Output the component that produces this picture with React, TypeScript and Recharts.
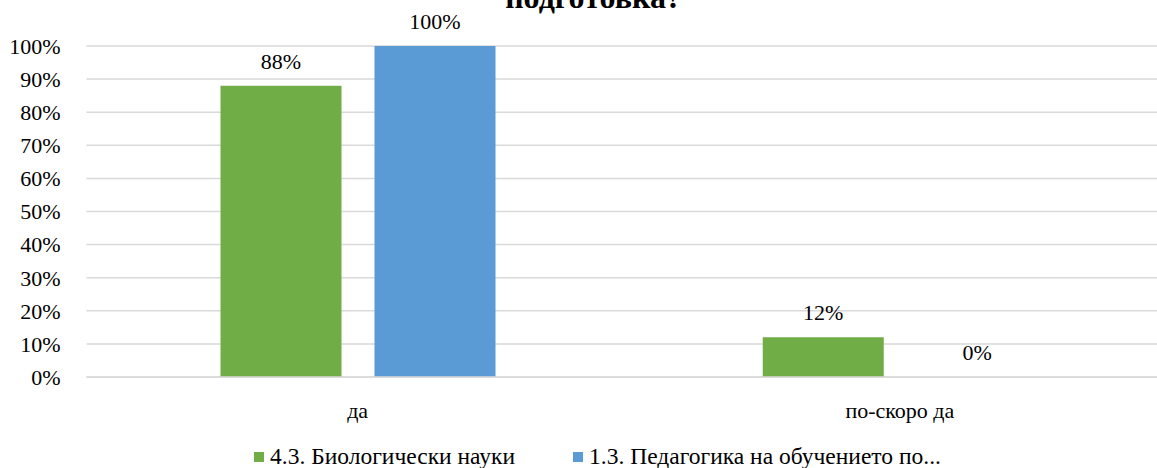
import { BarChart, Bar, XAxis, YAxis, CartesianGrid, Legend, LabelList, Rectangle } from 'recharts'

const categories = ['да', 'по-скоро да']
const biology = [88, 12]
const pedagogy = [100, 0]
const yTicks = [0, 10, 20, 30, 40, 50, 60, 70, 80, 90, 100]
const seriesNames = ['4.3. Биологически науки', '1.3. Педагогика на обучението по...']
const titleLast = 'подготовка?'

const data = categories.map((c, i) => ({ cat: c, bio: biology[i], ped: pedagogy[i] }))

const FONT = '"Liberation Serif", "Times New Roman", serif'
const GREEN = '#70AD47'
const BLUE = '#5B9BD5'
const GRID = '#D9D9D9'

// легенда, подредена като в Excel
function LegendBox() {
  const items = [
    { name: seriesNames[0], color: GREEN },
    { name: seriesNames[1], color: BLUE },
  ]
  return (
    <div style={{ display: 'flex', justifyContent: 'center', gap: 58, fontFamily: FONT, fontSize: 23.5, color: '#000' }}>
      {items.map((it) => (
        <div key={it.name} style={{ display: 'flex', alignItems: 'center' }}>
          <span style={{ display: 'inline-block', width: 10, height: 10, background: it.color, marginRight: 6 }} />
          <span>{it.name}</span>
        </div>
      ))}
    </div>
  )
}

// етикет над стълба, рисува и стойност 0
function ValueLabel(props: any) {
  const { x, y, width, height, value } = props
  if (value === undefined || value === null) return null
  const top = Number(value) === 0 ? Number(y) + Number(height) : Number(y)
  return (
    <text x={Number(x) + Number(width) / 2} y={top - 17} textAnchor="middle" fill="#000" fontSize={22} fontFamily={FONT}>
      {`${value}%`}
    </text>
  )
}

// нулевите стълбове не се рисуват, само етикетът им
function BarShape(props: any) {
  if (Number(props.value) === 0) return <g />
  return <Rectangle {...props} />
}

export default function App() {
  return (
    <div style={{ position: 'fixed', left: 0, top: 0, width: 1157, height: 468, overflow: 'hidden', background: '#fff' }}>
      <style>{`.recharts-wrapper text, .recharts-wrapper tspan { font-family: "Liberation Serif", "Times New Roman", serif !important; }`}</style>
      <div
        style={{
          position: 'absolute', left: 0, width: 1187, top: -20, textAlign: 'center',
          fontFamily: FONT, fontWeight: 'bold', fontSize: 32, lineHeight: '34px', color: '#000',
        }}
      >
        {titleLast}
      </div>
      <BarChart
        width={1171}
        height={468}
        data={data}
        margin={{ top: 46, right: 0, left: 0, bottom: 50 }}
        barSize={121}
        barGap={33}
        style={{ fontFamily: FONT }}
      >
        <CartesianGrid vertical={false} stroke={GRID} strokeWidth={1.5} />
        <XAxis
          dataKey="cat"
          axisLine={{ stroke: GRID, strokeWidth: 1.5 }}
          tickLine={false}
          tick={{ fill: '#000', fontSize: 22, fontFamily: FONT }}
          tickMargin={19}
          height={40}
        />
        <YAxis
          width={86.5}
          domain={[0, 100]}
          ticks={yTicks}
          tickFormatter={(v) => `${v}%`}
          axisLine={false}
          tickLine={false}
          tickMargin={20}
          tick={{ fill: '#000', fontSize: 22, fontFamily: FONT }}
        />
        <Legend
          verticalAlign="bottom"
          height={1}
          content={() => <LegendBox />}
          wrapperStyle={{ position: 'absolute', top: 443, left: 0, width: 1195 }}
        />
        <Bar dataKey="bio" name={seriesNames[0]} fill={GREEN} isAnimationActive={false}>
          <LabelList dataKey="bio" content={ValueLabel} />
        </Bar>
        <Bar dataKey="ped" name={seriesNames[1]} fill={BLUE} minPointSize={1} shape={BarShape} isAnimationActive={false}>
          <LabelList dataKey="ped" content={ValueLabel} />
        </Bar>
      </BarChart>
    </div>
  )
}
